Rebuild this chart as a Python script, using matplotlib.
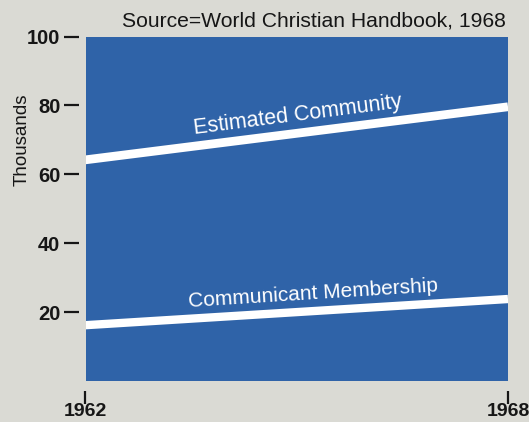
import matplotlib.pyplot as plt

# Church growth series (thousands)
years = [1962, 1968]
community = [64.2, 79.6]
communicants = [16.2, 23.8]
y_ticks = [20, 40, 60, 80, 100]

bg = '#dadad4'
blue = '#2f63a8'
ink = '#161616'
font = 'Liberation Sans'

W, H = 529, 422
fig = plt.figure(figsize=(W / 100, H / 100), dpi=100, facecolor=bg)
ax = fig.add_axes([85.5 / W, 1 - 381 / H, 422.5 / W, 344.5 / H])
ax.set_facecolor(blue)

ax.plot(years, community, color='white', lw=6.3, solid_capstyle='butt')
ax.plot(years, communicants, color='white', lw=6.0, solid_capstyle='butt')

ax.set_xlim(years[0], years[1])
ax.set_ylim(0, 100)

for s in ax.spines.values():
    s.set_visible(False)
ax.spines['left'].set_position(('outward', 5))
ax.spines['bottom'].set_position(('outward', 7))

ax.set_yticks(y_ticks)
ax.set_yticklabels([str(v) for v in y_ticks], fontsize=14.5,
                   fontweight='bold', family=font, color=ink)
ax.tick_params(axis='y', length=11, width=1.6, color=ink, pad=2)
ax.set_xticks(years)
ax.set_xticklabels([str(v) for v in years], fontsize=14,
                   fontweight='bold', family=font, color=ink)
ax.tick_params(axis='x', length=9, width=1.6, color=ink, pad=0)
ax.get_xticklabels()[-1].set_x(1967.93)

ax.set_ylabel('Thousands', fontsize=13.5, family=font, color=ink)
ax.yaxis.set_label_coords(-0.129, 0.70)

# series labels sit just above their bands, following the slope
ax.text(1965.02, 77.1, 'Estimated Community', color='white', fontsize=15.5,
        family=font, rotation=7.3, ha='center', va='center')
ax.text(1965.23, 25.4, 'Communicant Membership', color='white', fontsize=15,
        family=font, rotation=3.6, ha='center', va='center')

fig.text(506 / W, 1 - 21 / H, 'Source=World Christian Handbook, 1968',
         fontsize=15.2, family=font, ha='right', va='center', color=ink)

fig.savefig('out.png', dpi=100, facecolor=bg)
